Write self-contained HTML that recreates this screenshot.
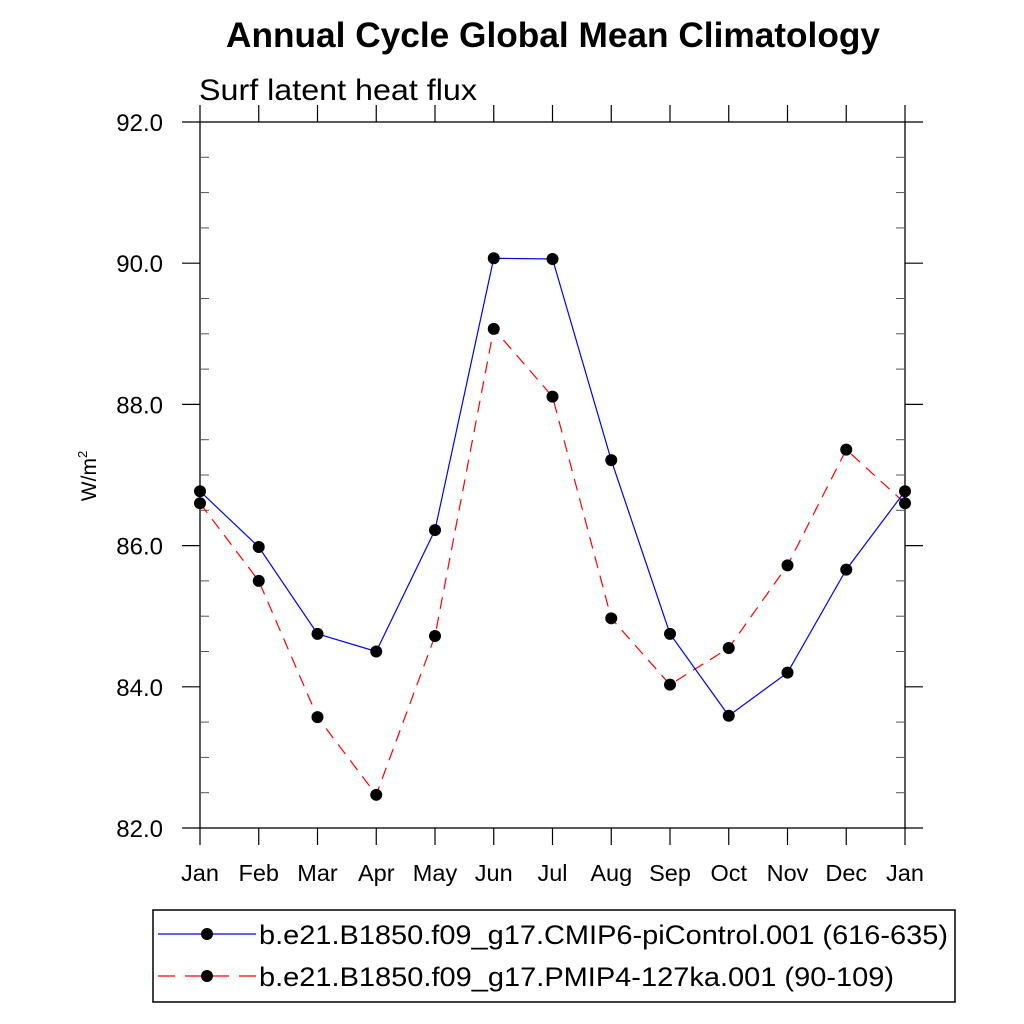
<!DOCTYPE html>
<html><head><meta charset="utf-8"><style>
html,body{margin:0;padding:0;background:#fff;}
svg{display:block;font-family:"Liberation Sans",sans-serif;}
</style></head><body>
<svg id="chart" width="1024" height="1024" viewBox="0 0 1024 1024">
<text x="226" y="47" font-size="35" font-weight="bold" textLength="654" lengthAdjust="spacingAndGlyphs">Annual Cycle Global Mean Climatology</text>
<text x="199" y="100" font-size="30" textLength="278" lengthAdjust="spacingAndGlyphs">Surf latent heat flux</text>
<text transform="translate(96,476) rotate(-90)" text-anchor="middle" font-size="21">W/m<tspan dy="-9" font-size="13">2</tspan></text>
<g id="axes"></g>
<g id="series"></g>
<g>
<rect x="153" y="910" width="802" height="92" fill="none" stroke="#000" stroke-width="1.5"/>
<line x1="158" y1="934" x2="256" y2="934" stroke="#0000ff" stroke-width="1.2"/>
<circle cx="207" cy="934" r="6" fill="#000"/>
<text x="259" y="944" font-size="27" textLength="689" lengthAdjust="spacingAndGlyphs">b.e21.B1850.f09_g17.CMIP6-piControl.001 (616-635)</text>
<line x1="158" y1="976" x2="256" y2="976" stroke="#ff0000" stroke-width="1.2" stroke-dasharray="17,10"/>
<circle cx="207" cy="976" r="6" fill="#000"/>
<text x="259" y="986" font-size="27" textLength="635" lengthAdjust="spacingAndGlyphs">b.e21.B1850.f09_g17.PMIP4-127ka.001 (90-109)</text>
</g>
</svg>
<script>
const months = ["Jan","Feb","Mar","Apr","May","Jun","Jul","Aug","Sep","Oct","Nov","Dec","Jan"];
const piControl = [86.77,85.98,84.75,84.50,86.22,90.07,90.06,87.21,84.75,83.59,84.20,85.66,86.77];
const ka127 = [86.60,85.50,83.57,82.47,84.72,89.07,88.11,84.97,84.03,84.55,85.72,87.36,86.60];
const yTicks = [82,84,86,88,90,92];
const yTickLabels = ["82.0","84.0","86.0","88.0","90.0","92.0"];
const NS="http://www.w3.org/2000/svg";
const L=200,R=905,T=122,B=828,ymin=82,ymax=92;
const xs=i=>L+(R-L)*i/(months.length-1);
const ys=v=>B-(v-ymin)/(ymax-ymin)*(B-T);
function mk(tag,attrs,parent){const e=document.createElementNS(NS,tag);for(const k in attrs)e.setAttribute(k,attrs[k]);parent.appendChild(e);return e;}
const ax=document.getElementById('axes');
const frame=mk('rect',{x:L,y:T,width:R-L,height:B-T,fill:'none',stroke:'#000','stroke-width':1.3},ax);


months.forEach((m,i)=>{const x=xs(i);
 const t1=mk('line',{x1:x,y1:T,x2:x,y2:T-17,stroke:'#000','stroke-width':1.2},ax);
 
 
 const t2=mk('line',{x1:x,y1:B,x2:x,y2:B+17,stroke:'#000','stroke-width':1.2},ax);
 
 
 const tx=mk('text',{x:x,y:B+53,'text-anchor':'middle','font-size':23.5},ax);tx.textContent=m;
 
 
});
for(let v=ymin;v<=ymax+1e-9;v+=0.5){const y=ys(v);const major=Math.abs(v/2-Math.round(v/2))<1e-9;
 if(major){
  const a=mk('line',{x1:L-18,y1:y,x2:L,y2:y,stroke:'#000','stroke-width':1.2},ax);
  
  
  const b=mk('line',{x1:R,y1:y,x2:R+18,y2:y,stroke:'#000','stroke-width':1.2},ax);
  
  
 } else {
  const a=mk('line',{x1:L,y1:y,x2:L+9,y2:y,stroke:'#555','stroke-width':1},ax);
  
  
  const b=mk('line',{x1:R-9,y1:y,x2:R,y2:y,stroke:'#555','stroke-width':1},ax);
  
  
 }}
yTicks.forEach((v,i)=>{const t=mk('text',{x:163,y:ys(v)+9,'text-anchor':'end','font-size':24},ax);t.textContent=yTickLabels[i];
 
 });
const sg=document.getElementById('series');
function draw(data,color,dash,name){
 const p=mk('polyline',{points:data.map((v,i)=>xs(i)+','+ys(v)).join(' '),fill:'none',stroke:color,'stroke-width':1.2,'stroke-dasharray':dash},sg);
 
 
 data.forEach((v,i)=>{const c=mk('circle',{cx:xs(i),cy:ys(v),r:6,fill:'#000'},sg);
  
  });
}
draw(ka127,'#ff0000','12,8','ka127');
draw(piControl,'#0000ff','none','picontrol');
</script>
</body></html>
